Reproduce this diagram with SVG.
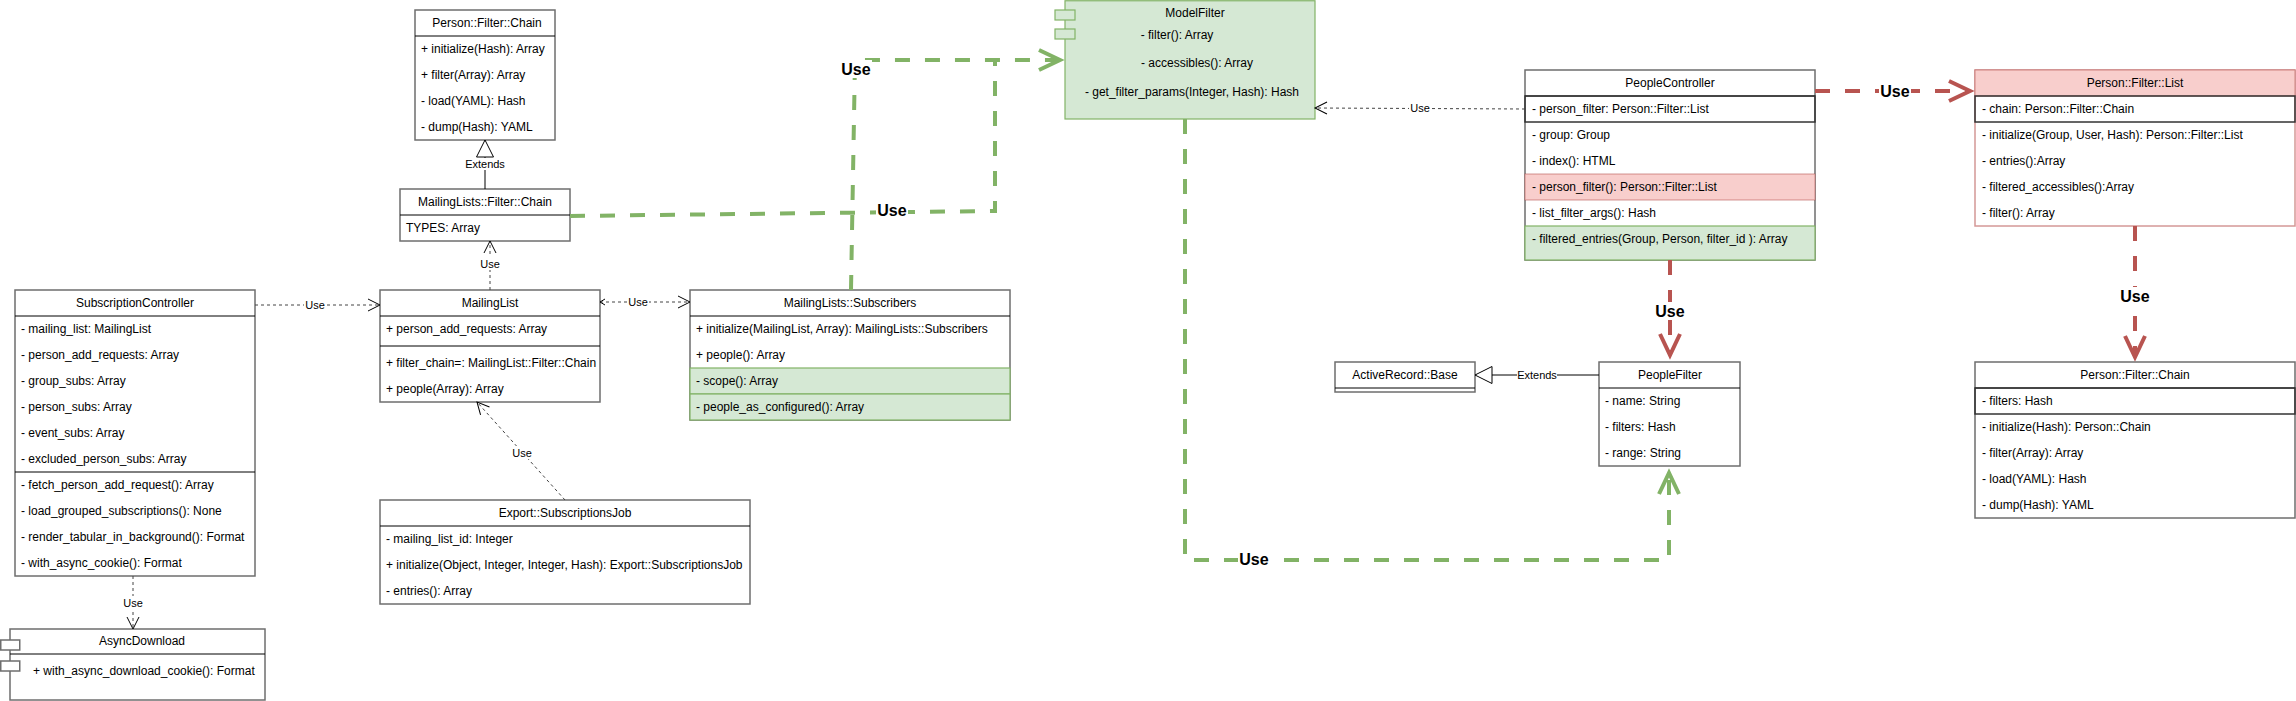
<svg xmlns="http://www.w3.org/2000/svg" width="2296" height="701" viewBox="0 0 2296 701">
<style>
text { font-family: "Liberation Sans", Arial, sans-serif; font-size: 12px; fill: #000; }
.c { text-anchor: middle; }
.lbl { font-size: 11px; text-anchor: middle; }
.use { font-size: 16px; font-weight: bold; text-anchor: middle; }
.box { fill: #fff; stroke: #6e6e6e; stroke-width: 1.5; }
.hl { stroke: #000; stroke-width: 1; }
.g { fill: #d5e8d4; stroke: #82b366; stroke-width: 1.2; }
.r { fill: #f8cecc; stroke: #b85450; stroke-width: 1; stroke-opacity: 0.6; }
.rbox { fill: #fff; stroke: #b85450; stroke-width: 1.5; stroke-opacity: 0.6; }
.dk { fill: none; stroke: #333; stroke-width: 1.5; }
.thin { fill: none; stroke: #444; stroke-width: 1; stroke-dasharray: 3 3; }
.solid { fill: none; stroke: #000; stroke-width: 1; }
.gl { fill: none; stroke: #82b366; stroke-width: 4; stroke-dasharray: 15 15; }
.rl { fill: none; stroke: #b85450; stroke-width: 4; stroke-dasharray: 15 15; }
.bg { fill: #fff; }
</style>
<defs>
<marker id="open" viewBox="0 -7 14 14" refX="13" refY="0" markerWidth="14" markerHeight="14" markerUnits="userSpaceOnUse" orient="auto" overflow="visible"><path d="M1,-6 L13,0 L1,6" fill="none" stroke="#000" stroke-width="1"/></marker>
<marker id="openS" viewBox="0 -4 8 8" refX="6" refY="0" markerWidth="8" markerHeight="8" markerUnits="userSpaceOnUse" orient="auto-start-reverse" overflow="visible"><path d="M1,-3 L6,0 L1,3" fill="none" stroke="#000" stroke-width="1"/></marker>
<marker id="openG" viewBox="-2 -13 30 26" refX="21" refY="0" markerWidth="30" markerHeight="26" markerUnits="userSpaceOnUse" orient="auto" overflow="visible"><path d="M0,-10 L21,0 L0,10" fill="none" stroke="#82b366" stroke-width="4"/></marker>
<marker id="openR" viewBox="-2 -13 30 26" refX="21" refY="0" markerWidth="30" markerHeight="26" markerUnits="userSpaceOnUse" orient="auto" overflow="visible"><path d="M0,-10 L21,0 L0,10" fill="none" stroke="#b85450" stroke-width="4"/></marker>
<marker id="tri" viewBox="-1 -10 19 20" refX="17" refY="0" markerWidth="19" markerHeight="20" markerUnits="userSpaceOnUse" orient="auto" overflow="visible"><path d="M0,-8.5 L17,0 L0,8.5 Z" fill="#fff" stroke="#000" stroke-width="1"/></marker>
</defs>
<rect width="2296" height="701" fill="#fff"/>

<g id="SubscriptionController">
<rect class="box" x="15" y="290" width="240" height="286"/>
<line class="hl" x1="15" y1="316" x2="255" y2="316"/>
<text class="c" x="135" y="307">SubscriptionController</text>
<text x="21" y="333">- mailing_list: MailingList</text>
<text x="21" y="359">- person_add_requests: Array</text>
<text x="21" y="385">- group_subs: Array</text>
<text x="21" y="411">- person_subs: Array</text>
<text x="21" y="437">- event_subs: Array</text>
<text x="21" y="463">- excluded_person_subs: Array</text>
<line class="hl" x1="15" y1="472" x2="255" y2="472"/>
<text x="21" y="489">- fetch_person_add_request(): Array</text>
<text x="21" y="515">- load_grouped_subscriptions(): None</text>
<text x="21" y="541">- render_tabular_in_background(): Format</text>
<text x="21" y="567">- with_async_cookie(): Format</text>
</g>

<g id="AsyncDownload">
<rect class="box" x="10" y="629" width="255" height="71"/>
<line class="hl" x1="10" y1="654" x2="265" y2="654"/>
<rect class="box" x="0.75" y="640" width="19" height="10"/>
<rect class="box" x="0.75" y="661" width="19" height="10"/>
<text class="c" x="142" y="645">AsyncDownload</text>
<text x="33" y="675">+ with_async_download_cookie(): Format</text>
</g>

<g id="PersonFilterChainLeft">
<rect class="box" x="415" y="10" width="140" height="130"/>
<line class="hl" x1="415" y1="36" x2="555" y2="36"/>
<text class="c" x="487" y="27">Person::Filter::Chain</text>
<text x="421" y="53">+ initialize(Hash): Array</text>
<text x="421" y="79">+ filter(Array): Array</text>
<text x="421" y="105">- load(YAML): Hash</text>
<text x="421" y="131">- dump(Hash): YAML</text>
</g>

<g id="MailingListsFilterChain">
<rect class="box" x="400" y="189" width="170" height="52"/>
<line class="hl" x1="400" y1="215" x2="570" y2="215"/>
<text class="c" x="485" y="206">MailingLists::Filter::Chain</text>
<text x="406" y="232">TYPES: Array</text>
</g>

<g id="MailingList">
<rect class="box" x="380" y="290" width="220" height="112"/>
<line class="hl" x1="380" y1="316" x2="600" y2="316"/>
<text class="c" x="490" y="307">MailingList</text>
<text x="386" y="333">+ person_add_requests: Array</text>
<line class="hl" x1="380" y1="346" x2="600" y2="346"/>
<text x="386" y="367">+ filter_chain=: MailingList::Filter::Chain</text>
<text x="386" y="393">+ people(Array): Array</text>
</g>

<g id="MailingListsSubscribers">
<rect class="box" x="690" y="290" width="320" height="130"/>
<line class="hl" x1="690" y1="316" x2="1010" y2="316"/>
<text class="c" x="850" y="307">MailingLists::Subscribers</text>
<text x="696" y="333">+ initialize(MailingList, Array): MailingLists::Subscribers</text>
<text x="696" y="359">+ people(): Array</text>
<rect class="g" x="690" y="368" width="320" height="26"/>
<rect class="g" x="690" y="394" width="320" height="26"/>
<text x="696" y="385">- scope(): Array</text>
<text x="696" y="411">- people_as_configured(): Array</text>
</g>

<g id="ExportSubscriptionsJob">
<rect class="box" x="380" y="500" width="370" height="104"/>
<line class="hl" x1="380" y1="526" x2="750" y2="526"/>
<text class="c" x="565" y="517">Export::SubscriptionsJob</text>
<text x="386" y="543">- mailing_list_id: Integer</text>
<text x="386" y="569">+ initialize(Object, Integer, Integer, Hash): Export::SubscriptionsJob</text>
<text x="386" y="595">- entries(): Array</text>
</g>

<g id="ModelFilter">
<rect class="g" x="1065" y="0.75" width="250" height="118.25"/>
<rect class="g" x="1055" y="10" width="20" height="10"/>
<rect class="g" x="1055" y="29" width="20" height="10"/>
<text class="c" x="1195" y="17">ModelFilter</text>
<text class="c" x="1177" y="39">- filter(): Array</text>
<text class="c" x="1197" y="67">- accessibles(): Array</text>
<text class="c" x="1192" y="96">- get_filter_params(Integer, Hash): Hash</text>
</g>

<g id="PeopleController">
<rect class="box" x="1525" y="70" width="290" height="190"/>
<line class="hl" x1="1525" y1="96" x2="1815" y2="96"/>
<text class="c" x="1670" y="87">PeopleController</text>
<rect class="dk" x="1525" y="96" width="290" height="26"/>
<text x="1532" y="113">- person_filter: Person::Filter::List</text>
<text x="1532" y="139">- group: Group</text>
<text x="1532" y="165">- index(): HTML</text>
<rect class="r" x="1525" y="174" width="290" height="26"/>
<text x="1532" y="191">- person_filter(): Person::Filter::List</text>
<text x="1532" y="217">- list_filter_args(): Hash</text>
<rect class="g" x="1525" y="226" width="290" height="34"/>
<text x="1532" y="243">- filtered_entries(Group, Person, filter_id ): Array</text>
</g>

<g id="PersonFilterList">
<rect class="rbox" x="1975" y="70" width="320" height="156"/>
<rect class="r" x="1975" y="70" width="320" height="26"/>
<text class="c" x="2135" y="87">Person::Filter::List</text>
<rect class="dk" x="1975" y="96" width="320" height="26"/>
<text x="1982" y="113">- chain: Person::Filter::Chain</text>
<text x="1982" y="139">- initialize(Group, User, Hash): Person::Filter::List</text>
<text x="1982" y="165">- entries():Array</text>
<text x="1982" y="191">- filtered_accessibles():Array</text>
<text x="1982" y="217">- filter(): Array</text>
</g>

<g id="PersonFilterChainRight">
<rect class="box" x="1975" y="362" width="320" height="156"/>
<line class="hl" x1="1975" y1="388" x2="2295" y2="388"/>
<text class="c" x="2135" y="379">Person::Filter::Chain</text>
<rect class="dk" x="1975" y="388" width="320" height="26"/>
<text x="1982" y="405">- filters: Hash</text>
<text x="1982" y="431">- initialize(Hash): Person::Chain</text>
<text x="1982" y="457">- filter(Array): Array</text>
<text x="1982" y="483">- load(YAML): Hash</text>
<text x="1982" y="509">- dump(Hash): YAML</text>
</g>

<g id="ActiveRecordBase">
<rect class="box" x="1335" y="362" width="140" height="30"/>
<line class="hl" x1="1335" y1="388" x2="1475" y2="388"/>
<text class="c" x="1405" y="379">ActiveRecord::Base</text>
</g>

<g id="PeopleFilter">
<rect class="box" x="1599" y="362" width="141" height="104"/>
<line class="hl" x1="1599" y1="388" x2="1740" y2="388"/>
<text class="c" x="1670" y="379">PeopleFilter</text>
<text x="1605" y="405">- name: String</text>
<text x="1605" y="431">- filters: Hash</text>
<text x="1605" y="457">- range: String</text>
</g>

<g id="connectors">
<path class="thin" d="M255,305 L380,305" marker-end="url(#open)"/>
<rect class="bg" x="304" y="298" width="22" height="13"/>
<text class="lbl" x="315" y="309">Use</text>

<path class="thin" d="M133,576 L133,629" marker-end="url(#open)"/>
<rect class="bg" x="122" y="596" width="22" height="13"/>
<text class="lbl" x="133" y="607">Use</text>

<path class="thin" d="M490,290 L490,241" marker-end="url(#open)"/>
<rect class="bg" x="479" y="257" width="22" height="13"/>
<text class="lbl" x="490" y="268">Use</text>

<path class="solid" d="M485,189 L485,140" marker-end="url(#tri)"/>
<rect class="bg" x="465" y="158" width="40" height="12"/>
<text class="lbl" x="485" y="168">Extends</text>

<path class="thin" d="M600,302 L690,302" marker-start="url(#openS)" marker-end="url(#open)"/>
<rect class="bg" x="627" y="295" width="22" height="13"/>
<text class="lbl" x="638" y="306">Use</text>

<path class="thin" d="M565,500 L477,402" marker-end="url(#open)"/>
<rect class="bg" x="511" y="446" width="22" height="13"/>
<text class="lbl" x="522" y="457">Use</text>

<path class="thin" d="M1525,109 L1315,108" marker-end="url(#open)"/>
<rect class="bg" x="1409" y="101" width="22" height="13"/>
<text class="lbl" x="1420" y="112">Use</text>

<path class="solid" d="M1599,375 L1475,375" marker-end="url(#tri)"/>
<rect class="bg" x="1517" y="369" width="40" height="12"/>
<text class="lbl" x="1537" y="379">Extends</text>

<path class="gl" d="M851,290 L855,60 L1060,60" marker-end="url(#openG)"/>
<path class="gl" d="M570,216 L995,211 L995,62"/>
<path class="gl" d="M1185,119 L1185,560 L1669,560 L1669,473" marker-end="url(#openG)"/>
<rect class="bg" x="840" y="60" width="32" height="18"/>
<text class="use" x="856" y="75">Use</text>
<rect class="bg" x="876" y="201" width="32" height="18"/>
<text class="use" x="892" y="216">Use</text>
<rect class="bg" x="1238" y="550" width="32" height="18"/>
<text class="use" x="1254" y="565">Use</text>

<path class="rl" d="M1815,91 L1970,91" marker-end="url(#openR)"/>
<path class="rl" d="M1670,260 L1670,355" marker-end="url(#openR)"/>
<path class="rl" d="M2135,226 L2135,357" marker-end="url(#openR)"/>
<rect class="bg" x="1879" y="82" width="32" height="18"/>
<text class="use" x="1895" y="97">Use</text>
<rect class="bg" x="1654" y="302" width="32" height="18"/>
<text class="use" x="1670" y="317">Use</text>
<rect class="bg" x="2119" y="287" width="32" height="18"/>
<text class="use" x="2135" y="302">Use</text>
</g>
</svg>
